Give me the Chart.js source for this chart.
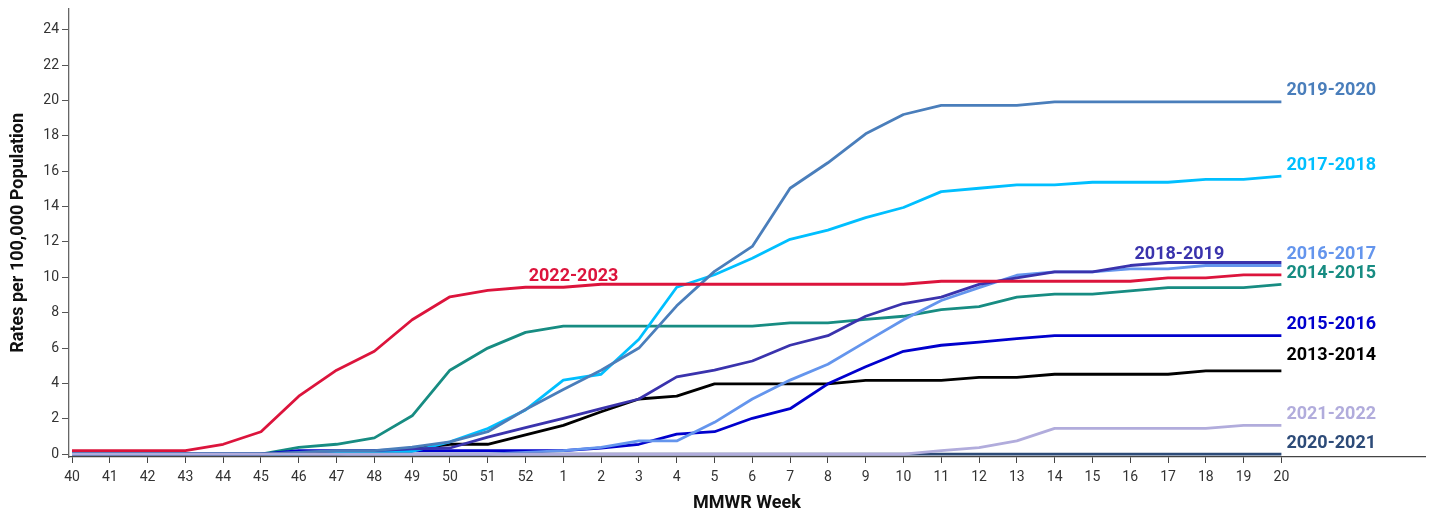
<!DOCTYPE html>
<html>
<head>
<meta charset="utf-8">
<script src="https://cdn.jsdelivr.net/npm/chart.js@4"></script>
<style>
  html, body { margin: 0; padding: 0; background: #fff; }
  #wrap { width: 1433px; height: 514px; position: relative; }
</style>
</head>
<body>
<div id="wrap"><canvas id="c"></canvas></div>
<script>
// ---- data ----
const weeks = ['40','41','42','43','44','45','46','47','48','49','50','51','52',
  '1','2','3','4','5','6','7','8','9','10','11','12','13','14','15','16','17','18','19','20'];
const yTicks = [0,2,4,6,8,10,12,14,16,18,20,22,24];

const s2013_2014 = [0,0,0,0,0,0,0,0,0.1,0.3,0.56,0.56,1.09,
  1.63,2.4,3.12,3.28,3.98,3.98,3.98,3.98,4.17,4.17,4.17,4.34,4.34,4.52,4.52,4.52,4.52,4.71,4.71,4.71];
const s2014_2015 = [0,0,0,0,0,0,0.39,0.56,0.92,2.17,4.75,6.0,6.89,
  7.24,7.24,7.24,7.24,7.24,7.24,7.43,7.43,7.62,7.8,8.17,8.35,8.88,9.05,9.05,9.24,9.42,9.42,9.42,9.6];
const s2015_2016 = [0,0,0,0,0,0,0.2,0.2,0.2,0.2,0.2,0.2,0.2,
  0.2,0.35,0.56,1.13,1.27,2.03,2.57,3.98,4.94,5.82,6.16,6.34,6.53,6.7,6.7,6.7,6.7,6.7,6.7,6.7];
const s2016_2017 = [0,0,0,0,0,0,0,0,0,0,0,0,0.1,
  0.2,0.39,0.75,0.75,1.8,3.12,4.19,5.09,6.35,7.6,8.69,9.42,10.12,10.31,10.31,10.48,10.48,10.67,10.67,10.67];
const s2017_2018 = [0,0,0,0,0,0,0,0.1,0.1,0.15,0.7,1.45,2.5,
  4.19,4.52,6.5,9.44,10.15,11.08,12.15,12.67,13.38,13.95,14.85,15.04,15.23,15.23,15.38,15.38,15.38,15.54,15.54,15.73];
const s2018_2019 = [0,0,0,0,0,0,0.1,0.2,0.2,0.3,0.35,0.96,1.5,
  2.03,2.57,3.12,4.37,4.75,5.27,6.16,6.7,7.8,8.52,8.88,9.6,9.97,10.31,10.31,10.67,10.84,10.84,10.84,10.84];
const s2019_2020 = [0,0,0,0,0,0,0.1,0.2,0.2,0.4,0.7,1.27,2.53,
  3.66,4.75,6.0,8.39,10.34,11.75,15.04,16.48,18.12,19.21,19.73,19.73,19.73,19.92,19.92,19.92,19.92,19.92,19.92,19.92];
const s2020_2021 = [0,0,0,0,0,0,0,0,0,0,0,0,0,
  0,0,0,0,0,0,0,0,0,0,0,0,0,0,0,0,0,0,0,0];
const s2021_2022 = [0,0,0,0,0,0,0,0,0,0,0,0,0,
  0,0,0,0,0,0,0,0,0,0,0.2,0.37,0.75,1.46,1.46,1.46,1.46,1.46,1.63,1.63];
const s2022_2023 = [0.2,0.2,0.2,0.2,0.56,1.27,3.28,4.75,5.82,7.6,8.9,9.26,9.44,
  9.44,9.61,9.61,9.61,9.61,9.61,9.61,9.61,9.61,9.61,9.78,9.78,9.78,9.78,9.78,9.78,9.97,9.97,10.14,10.14];

const seasons = ['2022-2023','2021-2022','2020-2021','2019-2020','2018-2019','2017-2018','2016-2017','2015-2016','2014-2015','2013-2014'];
const seriesList = [s2022_2023,s2021_2022,s2020_2021,s2019_2020,s2018_2019,s2017_2018,s2016_2017,s2015_2016,s2014_2015,s2013_2014];
const colors = ['#dc143c','#b1acdc','#2d4b78','#4a7ebb','#3a33ad','#00bfff','#6495ed','#0000cd','#178c82','#000000'];

// label placement (index along x, y pixel offset, alignment)
const labelPlace = {
  '2022-2023': {at: 13.27, dy: -10, align: 'center'},
  '2018-2019': {at: 29.3, dy: -8.5, align: 'center'},
  '2013-2014': {at: 32, dy: -15, align: 'left'}
};

const datasets = seasons.map((s, k) => ({
  label: s,
  data: seriesList[k].map((v, i) => ({x: i, y: v})),
  borderColor: colors[k],
  backgroundColor: colors[k],
  borderWidth: 2.8,
  pointRadius: 0,
  tension: 0,
  borderJoinStyle: 'round',
  fill: false
}));

const endLabels = {
  id: 'endLabels',
  afterDatasetsDraw(chart) {
    const {ctx, scales: {x, y}} = chart;
    ctx.save();
    ctx.font = 'bold 18px Roboto';
    ctx.textBaseline = 'middle';
    chart.data.datasets.forEach((ds) => {
      const p = labelPlace[ds.label] || {at: 32, dy: -11, align: 'left'};
      const i0 = Math.floor(p.at), i1 = Math.min(i0 + 1, ds.data.length - 1);
      const f = p.at - i0;
      const v = ds.data[i0].y * (1 - f) + ds.data[i1].y * f;
      const px = x.getPixelForValue(p.at) + (p.align === 'left' ? 5 : 0);
      const py = y.getPixelForValue(v) + p.dy;
      ctx.fillStyle = ds.borderColor;
      ctx.textAlign = p.align;
      ctx.fillText(ds.label, px, py);
    });
    ctx.restore();
  }
};

new Chart(document.getElementById('c'), {
  type: 'line',
  data: { datasets },
  options: {
    responsive: true,
    maintainAspectRatio: false,
    animation: false,
    layout: { padding: { top: 7, right: 8, left: 0, bottom: 0 } },
    plugins: { legend: { display: false }, tooltip: { enabled: false } },
    scales: {
      x: {
        type: 'linear',
        min: -0.08,
        max: 35.8,
        afterBuildTicks: (sc) => { sc.ticks = weeks.map((w, i) => ({value: i})); },
        afterFit: (sc) => { sc.height = 57; },
        ticks: {
          autoSkip: false,
          maxRotation: 0,
          color: '#333',
          padding: 6,
          font: { family: 'Roboto', size: 14 },
          callback: (v) => weeks[v]
        },
        grid: { drawOnChartArea: false, drawTicks: true, tickLength: 6, color: '#444' },
        border: { display: true, color: '#444', width: 1.3 },
        title: {
          display: true,
          text: 'MMWR Week',
          color: '#111',
          font: { family: 'Roboto', size: 18, weight: 'bold' },
          padding: { top: 0, bottom: 0 }
        }
      },
      y: {
        min: -0.16,
        max: 25.2,
        afterBuildTicks: (sc) => { sc.ticks = yTicks.map(v => ({value: v})); },
        afterFit: (sc) => { sc.width = 69; },
        ticks: {
          color: '#333',
          padding: 3,
          font: { family: 'Roboto', size: 14, lineHeight: 0.8 }
        },
        grid: { drawOnChartArea: false, drawTicks: true, tickLength: 7, color: '#555' },
        border: { display: true, color: '#666', width: 1.3 },
        title: {
          display: true,
          text: 'Rates per 100,000 Population',
          color: '#111',
          font: { family: 'Roboto', size: 18, weight: 'bold' },
          padding: { top: 8, bottom: 0 }
        }
      }
    }
  },
  plugins: [endLabels]
});
</script>
</body>
</html>
